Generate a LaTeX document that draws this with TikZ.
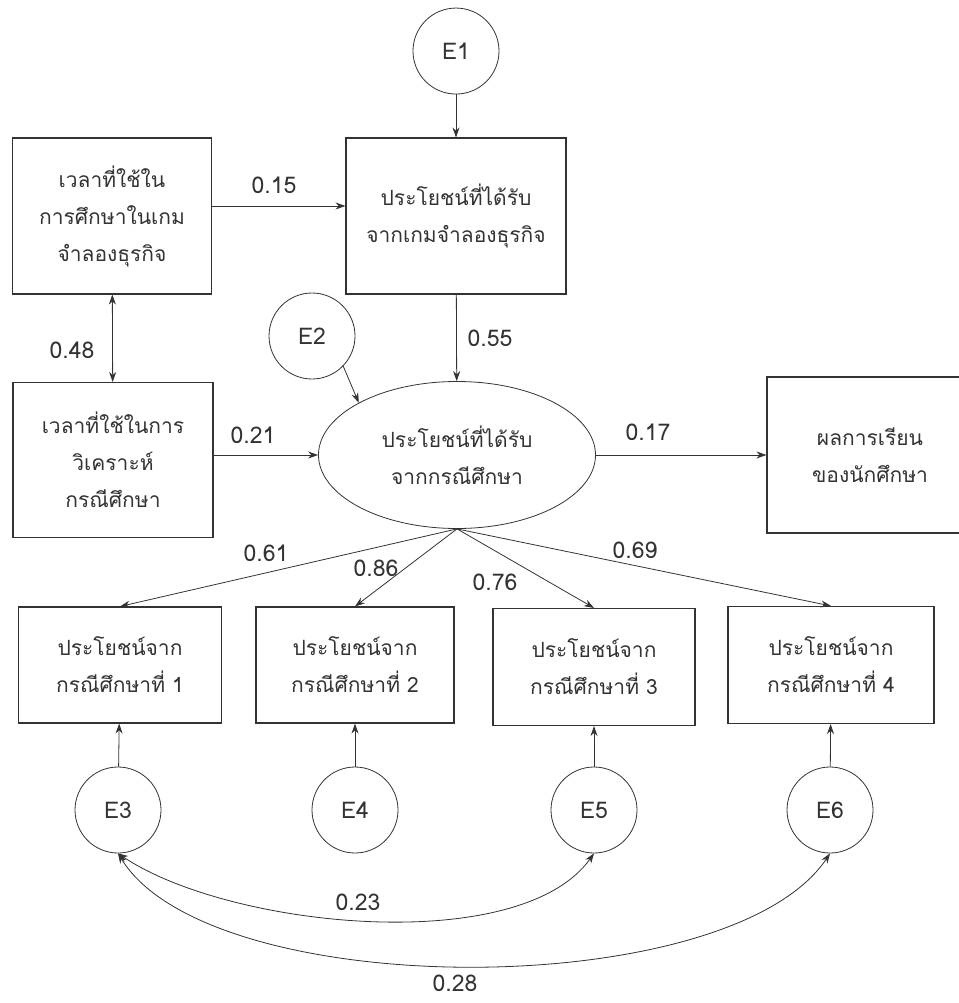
\documentclass[tikz,border=0pt]{standalone}
\usepackage{fontspec}
\setmainfont[Script=Thai]{Loma}
\usetikzlibrary{shapes.geometric,arrows.meta,positioning}
\definecolor{ink}{HTML}{333333}

\begin{document}
\begin{tikzpicture}[x=1pt, y=-1pt,
  every node/.style={font=\fontsize{21}{37}\selectfont, text=ink},
  box/.style={draw=ink, line width=1.1pt, align=center, inner sep=0pt},
  errc/.style={draw=ink, line width=0.8pt, circle, minimum size=86pt, inner sep=0pt, font=\fontsize{23}{28}\selectfont},
  coef/.style={font=\fontsize{23}{28}\selectfont, inner sep=1pt},
  arr/.style={-{Stealth[length=10pt,width=7pt]}, line width=0.8pt, draw=ink},
  dbl/.style={{Stealth[length=10pt,width=7pt]}-{Stealth[length=10pt,width=7pt]}, line width=0.8pt, draw=ink}]
  \useasboundingbox (0,0) rectangle (958,1003);

  % top row
  \node[box, minimum width=199pt, minimum height=156pt] (bA) at (112,216) {เวลาที่ใช้ใน\\การศึกษาในเกม\\จำลองธุรกิจ};
  \node[box, minimum width=220pt, minimum height=156pt] (bB) at (456,216) {ประโยชน์ที่ได้รับ\\จากเกมจำลองธุรกิจ};
  \node[errc, above=43pt of bB] (e1) {E1};

  % middle row
  \node[box, minimum width=200pt, minimum height=155pt] (bC) at (113,460) {เวลาที่ใช้ในการ\\วิเคราะห์\\กรณีศึกษา};
  \node[draw=ink, line width=0.8pt, ellipse, minimum width=277pt, minimum height=147pt, inner sep=0pt, align=center] (ell) at (457,455) {ประโยชน์ที่ได้รับ\\จากกรณีศึกษา};
  \node[box, minimum width=206pt, minimum height=156pt] (bD) at (870,455) {ผลการเรียน\\ของนักศึกษา};
  \node[errc] (e2) at (312,336) {E2};

  % indicators
  \node[box, minimum width=203pt, minimum height=116pt] (b1) at (120,665) {ประโยชน์จาก\\กรณีศึกษาที่ 1};
  \node[box, minimum width=198pt, minimum height=116pt] (b2) at (355,665) {ประโยชน์จาก\\กรณีศึกษาที่ 2};
  \node[box, minimum width=202pt, minimum height=117pt] (b3) at (594,667) {ประโยชน์จาก\\กรณีศึกษาที่ 3};
  \node[box, minimum width=206pt, minimum height=117pt] (b4) at (831,665) {ประโยชน์จาก\\กรณีศึกษาที่ 4};
  \node[errc] (e3) at (118,810) {E3};
  \node[errc] (e4) at (355,810) {E4};
  \node[errc] (e5) at (594,810) {E5};
  \node[errc] (e6) at (830,810) {E6};

  % paths
  \draw[arr] (e1) -- (bB);
  \draw[arr] ([yshift=10pt]bA.east) -- ([yshift=10pt]bB.west);
  \draw[dbl] (bA) -- (bC);
  \draw[arr] (bB) -- (ell);
  \draw[arr] (e2.-44) -- (ell.152);
  \draw[arr] (bC.east |- ell.west) -- (ell.west);
  \draw[arr] (ell) -- (bD);
  \foreach \i in {1,...,4}
    \draw[arr] (ell.south) -- (b\i.north);
  \foreach \i/\e in {1/3,2/4,3/5,4/6}
    \draw[arr] (e\e) -- (b\i);
  \draw[dbl] (e3.south) .. controls +(112,75) and +(-74,104) .. (e5.south);
  \draw[dbl] (e3.south) .. controls +(92,150) and +(-100,150) .. (e6.south);

  % coefficients
  \node[coef] (c15) at (274,185) {0.15};
  \node[coef] (c48) at (72,350) {0.48};
  \node[coef] (c55) at (490,338) {0.55};
  \node[coef] (c21) at (253,435) {0.21};
  \node[coef] (c17) at (648,432) {0.17};
  \node[coef] (c61) at (266,553) {0.61};
  \node[coef] (c86) at (376,568) {0.86};
  \node[coef] (c76) at (495,582) {0.76};
  \node[coef] (c69) at (635,550) {0.69};
  \node[coef] (c23) at (358,902) {0.23};
  \node[coef] (c28) at (455,983) {0.28};
\end{tikzpicture}
\end{document}
